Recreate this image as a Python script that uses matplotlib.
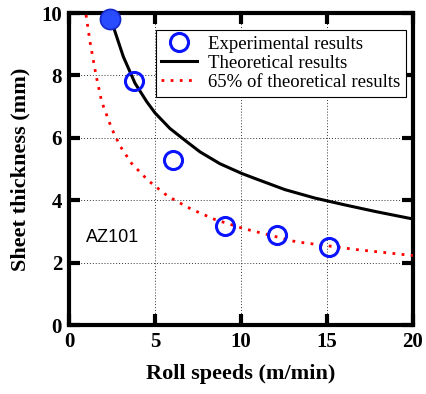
import matplotlib
matplotlib.use("Agg")
import matplotlib.pyplot as plt

# Experimental results
exp_x = [2.4, 3.8, 6.05, 9.1, 12.1, 15.1]
exp_y = [9.8, 7.82, 5.29, 3.18, 2.89, 2.51]

# Theoretical results
theo_x = [2.4, 2.58, 3.16, 3.84, 4.52, 5.0, 5.87, 6.84, 7.62, 8.78, 10.04, 10.9, 12.56, 14.3, 16.05, 17.9, 20.0]
theo_y = [9.85, 9.56, 8.6, 7.75, 7.16, 6.8, 6.3, 5.88, 5.55, 5.17, 4.86, 4.68, 4.34, 4.07, 3.85, 3.63, 3.4]

# 65% of theoretical results
red_x = [0.99, 1.22, 1.57, 1.9, 2.48, 2.97, 3.64, 4.61, 5.58, 6.16, 7.13, 8.5, 10.1, 13.2, 16.7, 19.8, 20.0]
red_y = [9.94, 9.08, 8.01, 7.16, 6.30, 5.74, 5.18, 4.63, 4.2, 4.0, 3.71, 3.38, 3.1, 2.67, 2.42, 2.24, 2.23]

xticks = [0, 5, 10, 15, 20]
yticks = [0, 2, 4, 6, 8, 10]

fig = plt.figure(figsize=(4.26, 3.94), dpi=100)
ax = fig.add_axes([0.162, 0.175, 0.807, 0.792])

serif = ["Liberation Serif", "DejaVu Serif"]

ax.plot(theo_x, theo_y, color="black", lw=2.2, label="Theoretical results", zorder=3,
        solid_joinstyle="round")
ax.plot(red_x, red_y, color="red", lw=2.0, linestyle=(0, (1, 2.3)),
        label="65% of theoretical results", zorder=3)
ax.plot(exp_x[1:], exp_y[1:], linestyle="none", marker="o", ms=13, mfc="none",
        mec="#0a14ff", mew=2.2, label="Experimental results", zorder=4)
ax.plot(exp_x[:1], exp_y[:1], linestyle="none", marker="o", ms=14.5, mfc="#2a4cff",
        mec="#1428c8", mew=1.2, zorder=5, clip_on=False)

ax.set_xlim(0, 20)
ax.set_ylim(0, 10)
ax.set_xticks(xticks)
ax.set_yticks(yticks)
ax.set_xticklabels([str(v) for v in xticks], fontfamily=serif, fontweight="bold", fontsize=15)
ax.set_yticklabels([str(v) for v in yticks], fontfamily=serif, fontweight="bold", fontsize=15)
ax.tick_params(direction="in", length=8, width=3, top=True, right=True, pad=5)

for s in ax.spines.values():
    s.set_linewidth(3)

ax.grid(True, color="#333333", linestyle=(0, (1, 2)), linewidth=0.7)

ax.set_xlabel("Roll speeds (m/min)", fontfamily=serif, fontweight="bold", fontsize=16, labelpad=9)
ax.set_ylabel("Sheet thickness (mm)", fontfamily=serif, fontweight="bold", fontsize=16, labelpad=8)

ax.text(1.0, 2.8, "AZ101", fontfamily=["Liberation Sans", "DejaVu Sans"], fontsize=13,
        va="center", ha="left")

h, l = ax.get_legend_handles_labels()
order = [2, 0, 1]
leg = ax.legend([h[i] for i in order], [l[i] for i in order],
                loc="upper right", bbox_to_anchor=(0.98, 0.945),
                prop={"family": serif, "size": 13.5}, frameon=True, fancybox=False,
                edgecolor="black", framealpha=1, borderpad=0.3, labelspacing=0.1,
                handlelength=1.9, handletextpad=0.6, borderaxespad=0)
leg.get_frame().set_linewidth(0.8)

fig.savefig("out.png", dpi=100)
